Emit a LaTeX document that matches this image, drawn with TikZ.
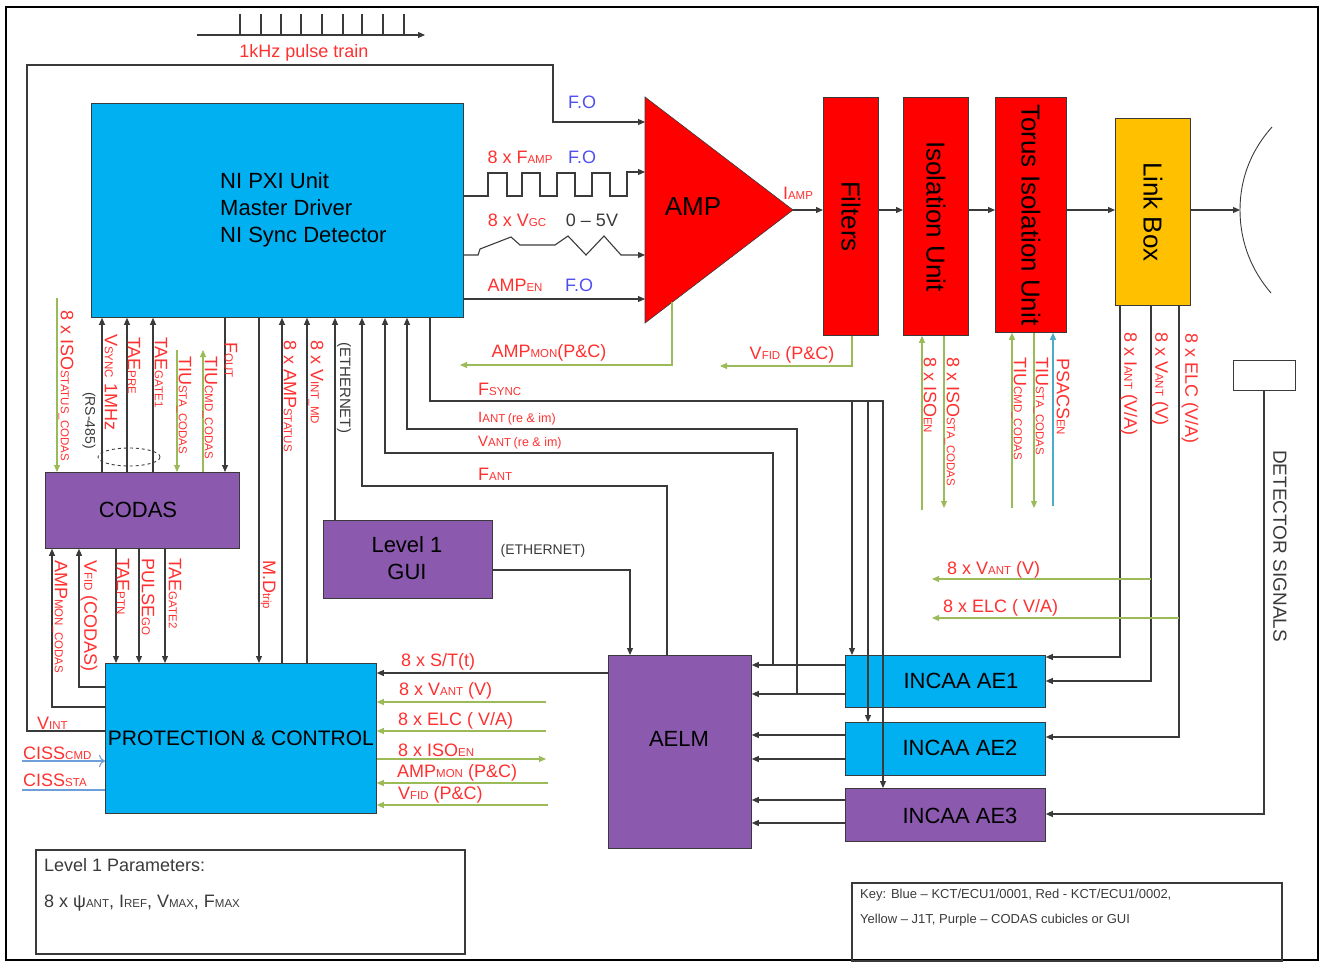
\documentclass[tikz,border=0pt]{standalone}
\usepackage{fontspec}
\setmainfont{Liberation Sans}
\usetikzlibrary{arrows.meta}
\definecolor{cblue}{HTML}{00B0F0}
\definecolor{cpurp}{HTML}{8B5AAE}
\definecolor{cred}{HTML}{FF0000}
\definecolor{cyel}{HTML}{FFC000}
\definecolor{cgreen}{HTML}{9BBB59}
\definecolor{ltblue}{HTML}{4BACC6}
\definecolor{ciss}{HTML}{6F9FD8}
\definecolor{tred}{HTML}{FF3030}
\definecolor{tblue}{HTML}{4F4FF0}
\definecolor{lgrey}{HTML}{3A3A3A}
\newcommand\smc[1]{{\fontsize{11.5}{11.5}\selectfont #1}}
\begin{document}
\begin{tikzpicture}[x=1pt,y=-1pt,
  box/.style={draw=lgrey, line width=0.8pt, inner sep=0pt, anchor=north west},
  ln/.style={draw=lgrey, line width=1.1pt},
  arr/.style={ln, -{Triangle[length=7pt,width=6pt]}},
  garr/.style={draw=cgreen, line width=1.1pt, -{Triangle[length=7pt,width=6pt]}},
  bgarr/.style={draw=ltblue, line width=1.1pt, -{Triangle[length=7pt,width=6pt]}},
  lbl/.style={text=tred, font=\fontsize{18}{18}\selectfont, inner sep=0pt},
  blbl/.style={lbl, text=tblue},
  klbl/.style={lbl, text=lgrey},
  vlbl/.style={lbl, rotate=-90, anchor=west},
  big/.style={font=\fontsize{22}{26}\selectfont, text=black, inner sep=0pt},
  vbig/.style={big, font=\fontsize{26}{26}\selectfont, rotate=-90}
]
\useasboundingbox (0,0) rectangle (1322,963);
\draw[line width=2.5pt, black] (6,7) rectangle (1318,960);

% ---------- boxes ----------
\node[box, fill=cblue, minimum width=372pt, minimum height=214pt] (pxi) at (91,103) {};
\node[box, fill=cred, minimum width=55pt, minimum height=238pt] (filters) at (823,97) {};
\node[box, fill=cred, minimum width=65pt, minimum height=238pt] (iso) at (903,97) {};
\node[box, fill=cred, minimum width=71pt, minimum height=235pt] (torus) at (995,97) {};
\node[box, fill=cyel, minimum width=75pt, minimum height=187pt] (link) at (1115,118) {};
\node[box, fill=cpurp, minimum width=194pt, minimum height=76pt] (codas) at (45,472) {};
\node[box, fill=cpurp, minimum width=169pt, minimum height=78pt] (gui) at (323,520) {};
\node[box, fill=cblue, minimum width=271pt, minimum height=150pt] (pc) at (105,663) {};
\node[box, fill=cpurp, minimum width=143pt, minimum height=193pt] (aelm) at (608,655) {};
\node[box, fill=cblue, minimum width=200pt, minimum height=52pt] (ae1) at (845,655) {};
\node[box, fill=cblue, minimum width=200pt, minimum height=53pt] (ae2) at (845,722) {};
\node[box, fill=cpurp, minimum width=200pt, minimum height=53pt] (ae3) at (845,788) {};
\node[box, minimum width=62pt, minimum height=30pt] (det) at (1233,360) {};
\node[box, line width=2pt, minimum width=429pt, minimum height=104pt] (params) at (35,849) {};
\node[box, line width=2pt, minimum width=430pt, minimum height=78pt] (key) at (851,882) {};

% AMP triangle
\coordinate (ampL) at (645,210);
\coordinate (ampT) at (793,210);
\coordinate (ampB) at (672,302);
\fill[cred, draw=lgrey, line width=0.6pt] (645,97) -- (ampT) -- (645,323) -- cycle;

% ---------- pulse train ----------
\draw[arr] (197,35) -- (425,35);
\foreach \x in {240,261,281,301,322,343,362,383,404} \draw[ln] (\x,14) -- (\x,35);
\node[lbl] (pulse) at (304,53) {1kHz pulse train};

% F.O loop from P&C
\draw[arr] (pc.north west |- 0,731) -- (27,731) -- (27,65) -- (553,65) -- (553,122) -- (ampL |- 0,122);
\node[blbl] (fo1) at (582,102) {F.O};

% signals to AMP
\draw[arr] (pxi.east |- 0,196) -- (488,196) -- (488,173) -- (507,173) -- (507,196) -- (522,196) -- (522,173) -- (540,173) -- (540,196) -- (557,196) -- (557,173) -- (575,173) -- (575,196) -- (592,196) -- (592,173) -- (610,173) -- (610,196) -- (627,196) -- (627,172) -- (ampL |- 0,172);
\node[lbl] (famp) at (520,157) {8 x F\smc{AMP}};
\node[blbl] (fo2) at (582,157) {F.O};
\draw[arr] (pxi.east |- 0,255) -- (478,255) -- (480,249) -- (511,237) -- (520,245) -- (555,245) -- (568,236) -- (586,255) -- (604,236) -- (621,255) -- (ampL |- 0,255);
\node[lbl] (vgc) at (517,220) {8 x V\smc{GC}};
\node[klbl] (v05) at (592,220) {0 -- 5V};
\draw[arr] (pxi.east |- 0,299) -- (ampL |- 0,299);
\node[lbl] (ampen) at (515,285) {AMP\smc{EN}};
\node[blbl] (fo3) at (579,285) {F.O};

% chain
\draw[arr] (ampT) -- (filters.west |- ampT);
\node[lbl] (iamp) at (798,193) {I\smc{AMP}};
\draw[arr] (filters.east |- ampT) -- (iso.west |- ampT);
\draw[arr] (iso.east |- ampT) -- (torus.west |- ampT);
\draw[arr] (torus.east |- ampT) -- (link.west |- ampT);
\coordinate (arcmid) at (1240,210);
\draw[arr] (link.east |- ampT) -- (arcmid);
\draw[ln, line width=0.9pt] (1272,127) .. controls (1247,155) and (1240,185) .. (arcmid) .. controls (1240,235) and (1247,265) .. (1271,293);

% green feedback from AMP and Filters
\draw[garr] (ampB) -- (672,365) -- (460,365);
\node[lbl] (ampmon) at (549,353) {AMP\smc{MON}(P\&C)};
\draw[garr] (852,0 |- filters.south) -- (852,366) -- (720,366);
\node[lbl] (vfid) at (792,355) {V\smc{FID} (P\&C)};

% ---------- PXI <-> CODAS ----------
\draw[garr] (57,298) -- (57,0 |- codas.north);
\draw[arr] (102,0 |- codas.north) -- (102,0 |- pxi.south);
\draw[arr] (127,0 |- codas.north) -- (127,0 |- pxi.south);
\draw[arr] (153,0 |- codas.north) -- (153,0 |- pxi.south);
\draw[garr] (177,350) -- (177,0 |- codas.north);
\draw[garr] (203,0 |- codas.north) -- (203,350);
\draw[arr] (225,0 |- pxi.south) -- (225,0 |- codas.north);
\draw[dashed, lgrey, line width=0.9pt] (129,457) ellipse [x radius=31pt, y radius=9pt];
\node[vlbl] at (66,310) {8 x ISO\smc{STATUS\_CODAS}};
\node[vlbl] at (111,334) {V\smc{SYNC} 1MHz};
\node[vlbl, text=lgrey, font=\fontsize{14}{14}\selectfont] at (89,392) {(RS-485)};
\node[vlbl] at (134,337) {TAE\smc{PRE}};
\node[vlbl] at (161,337) {TAE\smc{GATE1}};
\node[vlbl] at (184,356) {TIU\smc{STA\_CODAS}};
\node[vlbl] at (210,356) {TIU\smc{CMD\_CODAS}};
\node[vlbl] at (231,342) {F\smc{OUT}};

% ---------- PXI <-> P&C, GUI ----------
\draw[arr] (259,0 |- pxi.south) -- (259,0 |- pc.north);
\draw[arr] (282,0 |- pc.north) -- (282,0 |- pxi.south);
\draw[arr] (307,0 |- pc.north) -- (307,0 |- pxi.south);
\draw[arr] (335,0 |- gui.north) -- (335,0 |- pxi.south);
\node[vlbl] at (290,340) {8 x AMP\smc{STATUS}};
\node[vlbl] at (316,340) {8 x V\smc{INT\_MD}};
\node[vlbl, text=lgrey, font=\fontsize{15}{15}\selectfont] at (344,342) {(ETHERNET)};
\node[vlbl] at (268,560) {M.D\smc{trip}};

% F_ANT, V_ANT, I_ANT, F_SYNC
\draw[arr] (667,0 |- aelm.north) -- (667,486) -- (362,486) -- (362,0 |- pxi.south);
\draw[arr] (773,665) -- (773,453) -- (385,453) -- (385,0 |- pxi.south);
\draw[arr] (797,694) -- (797,429) -- (407,429) -- (407,0 |- pxi.south);
\draw[arr] (430,0 |- pxi.south) -- (430,401) -- (883,401) -- (883,0 |- ae3.north);
\draw[arr] (852,401) -- (852,0 |- ae1.north);
\draw[arr] (868,401) -- (868,0 |- ae2.north);
\node[lbl, anchor=west] (fsync) at (478,389) {F\smc{SYNC}};
\node[lbl, anchor=west, font=\fontsize{15}{15}\selectfont] (iant) at (478,419) {I\smc{ANT}\,{\fontsize{12.5}{12.5}\selectfont(re \& im)}};
\node[lbl, anchor=west, font=\fontsize{15}{15}\selectfont] (vant) at (478,443) {V\smc{ANT}\,{\fontsize{12.5}{12.5}\selectfont(re \& im)}};
\node[lbl, anchor=west] (fant) at (478,474) {F\smc{ANT}};

% GUI -> AELM
\draw[arr] (gui.east |- 0,570) -- (630,570) -- (630,0 |- aelm.north);
\node[klbl, font=\fontsize{14}{14}\selectfont] (eth2) at (543,551) {(ETHERNET)};

% ---------- ISO / Torus signals ----------
\draw[garr] (922,510) -- (922,0 |- iso.south);
\draw[garr] (944,0 |- iso.south) -- (944,508);
\draw[garr] (1012,508) -- (1012,0 |- torus.south);
\draw[garr] (1034,0 |- torus.south) -- (1034,508);
\draw[bgarr] (1053,506) -- (1053,0 |- torus.south);
\node[vlbl] at (930,357) {8 x ISO\smc{EN}};
\node[vlbl] at (952,357) {8 x ISO\smc{STA\_CODAS}};
\node[vlbl] at (1019,357) {TIU\smc{CMD\_CODAS}};
\node[vlbl] at (1041,357) {TIU\smc{STA\_CODAS}};
\node[vlbl] at (1063,358) {PSACS\smc{EN}};

% ---------- Link box outputs ----------
\draw[arr] (1120,0 |- link.south) -- (1120,657) -- (ae1.east |- 0,657);
\draw[arr] (1151,0 |- link.south) -- (1151,681) -- (ae1.east |- 0,681);
\draw[arr] (1179,0 |- link.south) -- (1179,737) -- (ae2.east |- 0,737);
\draw[arr] (1264,0 |- det.south) -- (1264,814) -- (ae3.east |- 0,814);
\draw[garr] (1151,579) -- (932,579);
\draw[garr] (1179,618) -- (932,618);
\node[vlbl] at (1129,332) {8 x I\smc{ANT} (V/A)};
\node[vlbl] at (1160,332) {8 x V\smc{ANT} (V)};
\node[vlbl] at (1190,333) {8 x ELC (V/A)};
\node[lbl, anchor=west] (vant2) at (947,570) {8 x V\smc{ANT} (V)};
\node[lbl, anchor=west] (elc2) at (943,608) {8 x ELC ( V/A)};
\node[vlbl, text=lgrey, font=\fontsize{19}{19}\selectfont] at (1280,450) {DETECTOR SIGNALS};

% ---------- INCAA -> AELM ----------
\foreach \y in {665,694} \draw[arr] (ae1.west |- 0,\y) -- (aelm.east |- 0,\y);
\foreach \y in {735,759} \draw[arr] (ae2.west |- 0,\y) -- (aelm.east |- 0,\y);
\foreach \y in {800,823} \draw[arr] (ae3.west |- 0,\y) -- (aelm.east |- 0,\y);

% ---------- AELM / P&C ----------
\draw[arr] (aelm.west |- 0,673) -- (pc.east |- 0,673);
\draw[garr] (546,702) -- (pc.east |- 0,702);
\draw[garr] (546,731) -- (pc.east |- 0,731);
\draw[garr] (pc.east |- 0,759) -- (546,759);
\draw[garr] (548,783) -- (pc.east |- 0,783);
\draw[garr] (548,805) -- (pc.east |- 0,805);
\node[lbl, anchor=west] at (401,662) {8 x S/T(t)};
\node[lbl, anchor=west] at (399,691) {8 x V\smc{ANT} (V)};
\node[lbl, anchor=west] at (398,721) {8 x ELC ( V/A)};
\node[lbl, anchor=west] at (398,750) {8 x ISO\smc{EN}};
\node[lbl, anchor=west] at (397,773) {AMP\smc{MON} (P\&C)};
\node[lbl, anchor=west] at (398,795) {V\smc{FID} (P\&C)};

% ---------- CODAS <-> P&C ----------
\draw[arr] (pc.north west |- 0,707) -- (52,707) -- (52,0 |- codas.south);
\draw[arr] (pc.north west |- 0,687) -- (79,687) -- (79,0 |- codas.south);
\draw[arr] (116,0 |- codas.south) -- (116,0 |- pc.north);
\draw[arr] (139,0 |- codas.south) -- (139,0 |- pc.north);
\draw[arr] (165,0 |- codas.south) -- (165,0 |- pc.north);
\node[vlbl] at (60,560) {AMP\smc{MON\_CODAS}};
\node[vlbl] at (89,560) {V\smc{FID} (CODAS)};
\node[vlbl] at (123,558) {TAE\smc{PTN}};
\node[vlbl] at (148,558) {PULSE\smc{GO}};
\node[vlbl] at (175,558) {TAE\smc{GATE2}};

% ---------- left signals ----------
\node[lbl, anchor=west] (vint) at (37,723) {V\smc{INT}};
\draw[draw=ciss, line width=1.1pt, -{To[length=6pt]}] (22,761) -- (pc.north west |- 0,761);
\draw[draw=ciss, line width=1.1pt] (22,790) -- (pc.north west |- 0,790);
\node[lbl, anchor=west] (cisscmd) at (23,753) {CISS\smc{CMD}};
\node[lbl, anchor=west] (cisssta) at (23,780) {CISS\smc{STA}};

% ---------- box texts ----------
\node[big, align=left, anchor=west, font=\fontsize{22}{27}\selectfont] (pxitxt) at (220,210) {NI PXI Unit\\Master Driver\\NI Sync Detector};
\node[big, font=\fontsize{26}{26}\selectfont] (amptxt) at (693,207) {AMP};
\node[vbig] at (filters.center) {Filters};
\node[vbig] at (iso.center) {Isolation Unit};
\node[vbig] at (torus.center) {Torus Isolation Unit};
\node[vbig] at (link.center) {Link Box};
\node[big] (codastxt) at (138,510) {CODAS};
\node[big, align=center, font=\fontsize{22}{27}\selectfont] (guitxt) at (407,558) {Level 1\\GUI};
\node[big, font=\fontsize{21}{21}\selectfont] (pctxt) at (pc.center) {PROTECTION \& CONTROL};
\node[big] (aelmtxt) at (679,739) {AELM};
\node[big] (ae1txt) at (961,681) {INCAA AE1};
\node[big] (ae2txt) at (960,748) {INCAA AE2};
\node[big] (ae3txt) at (960,816) {INCAA AE3};

% ---------- parameter and key boxes ----------
\node[klbl, anchor=west] at (44,865) {Level 1 Parameters:};
\node[klbl, anchor=west] at (44,903) {8 x ψ\smc{ANT}, I\smc{REF}, V\smc{MAX}, F\smc{MAX}};
\node[klbl, anchor=west, font=\fontsize{13}{13}\selectfont] at (860,895) {Key: Blue -- KCT/ECU1/0001, Red - KCT/ECU1/0002,};
\node[klbl, anchor=west, font=\fontsize{13}{13}\selectfont] at (860,920) {Yellow -- J1T, Purple -- CODAS cubicles or GUI};
\end{tikzpicture}
\end{document}
